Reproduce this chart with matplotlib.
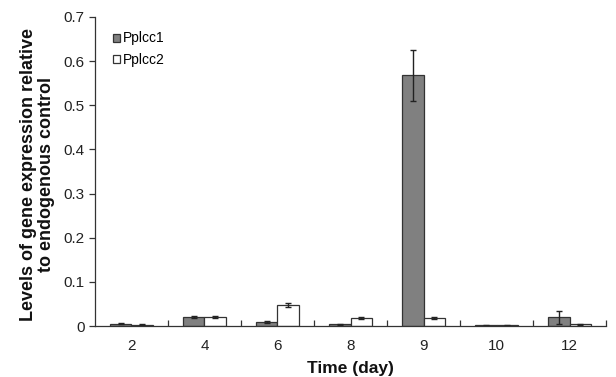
import numpy as np
import matplotlib.pyplot as plt

plt.rcParams['font.family'] = ['Liberation Sans', 'DejaVu Sans']

# expression data
days = ['2', '4', '6', '8', '9', '10', '12']
pplcc1 = [0.005, 0.020, 0.010, 0.004, 0.568, 0.002, 0.020]
pplcc1_err = [0.001, 0.002, 0.002, 0.001, 0.058, 0.001, 0.015]
pplcc2 = [0.003, 0.021, 0.048, 0.018, 0.018, 0.002, 0.004]
pplcc2_err = [0.001, 0.002, 0.004, 0.002, 0.002, 0.001, 0.001]

fig = plt.figure(figsize=(6.16, 3.77), dpi=100)
ax = fig.add_axes([0.154, 0.135, 0.83, 0.82])

x = np.arange(len(days))
w = 0.29
err_kw = dict(ecolor='#222222', elinewidth=1.0, capsize=2.5, capthick=1.0)
ax.bar(x - w / 2, pplcc1, w, yerr=pplcc1_err, color='#808080', edgecolor='#333333',
       linewidth=0.9, error_kw=err_kw, label='Pplcc1')
ax.bar(x + w / 2, pplcc2, w, yerr=pplcc2_err, color='white', edgecolor='#333333',
       linewidth=0.9, error_kw=err_kw, label='Pplcc2')

ax.set_xlim(-0.5, len(days) - 0.5)
ax.set_ylim(0, 0.7)
ax.set_yticks(np.arange(0, 0.71, 0.1))
ax.set_yticklabels(['0'] + [f'{v:.1f}' for v in np.arange(0.1, 0.71, 0.1)])
ax.set_xticks(x)
ax.set_xticklabels(days)
ax.set_xticks(np.arange(0.5, len(days), 1), minor=True)
ax.tick_params(axis='x', which='major', length=0, pad=9, labelsize=11, colors='#222222')
ax.tick_params(axis='x', which='minor', direction='in', length=4, width=0.9, color='#333333')
ax.tick_params(axis='y', direction='out', length=4, width=0.9, labelsize=11,
               color='#333333', labelcolor='#222222')

for s in ['top', 'right']:
    ax.spines[s].set_visible(False)
for s in ['left', 'bottom']:
    ax.spines[s].set_color('#333333')
    ax.spines[s].set_linewidth(0.9)

ax.set_xlabel('Time (day)', fontsize=12.5, fontweight='bold', labelpad=6, color='#111111')
ax.set_ylabel('Levels of gene expression relative\nto endogenous control', fontsize=13,
              fontweight='bold', color='#111111', linespacing=1.1)
ax.yaxis.set_label_coords(-0.077, 0.49)

ax.legend(loc='upper left', bbox_to_anchor=(0.02, 0.98), frameon=False, fontsize=10,
          handlelength=0.5, handleheight=0.5, handletextpad=0.2, labelspacing=0.55,
          borderaxespad=0.2)

fig.savefig('out.png', dpi=100)
